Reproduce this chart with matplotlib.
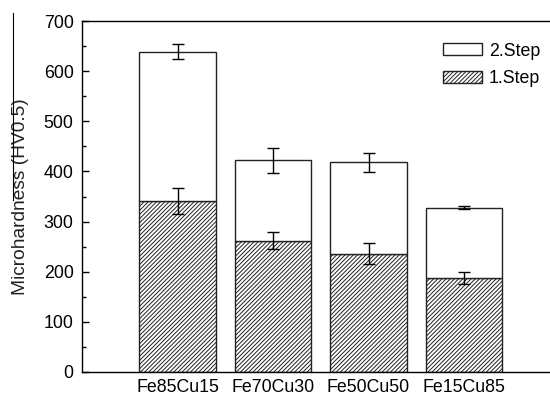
import numpy as np
import matplotlib
matplotlib.use("Agg")
import matplotlib.pyplot as plt
from matplotlib.lines import Line2D

plt.rcParams['font.family'] = ['Liberation Sans', 'DejaVu Sans']
plt.rcParams['hatch.linewidth'] = 0.7

# data
alloys = ['Fe85Cu15', 'Fe70Cu30', 'Fe50Cu50', 'Fe15Cu85']
step1 = [341, 262, 236, 187]
step1_err = [25, 17, 21, 12]
total = [639, 422, 418, 328]
total_err = [15, 25, 19, 3]
step2 = [t - s for t, s in zip(total, step1)]

x = np.arange(len(alloys))

fig = plt.figure(figsize=(5.5, 3.97), dpi=100)
ax = fig.add_axes([82/550, 1 - 372/397, (559.5 - 82)/550, (372 - 21)/397])

b1 = ax.bar(x, step1, width=0.8, color='white', edgecolor='#222222',
            hatch='////////', linewidth=1.0, label='1.Step')
b2 = ax.bar(x, step2, bottom=step1, width=0.8, color='white',
            edgecolor='#222222', linewidth=1.0, label='2.Step')

ax.errorbar(x, step1, yerr=step1_err, fmt='none', ecolor='black',
            elinewidth=1, capsize=4.5, capthick=1)
ax.errorbar(x, total, yerr=total_err, fmt='none', ecolor='black',
            elinewidth=1, capsize=4.5, capthick=1)

ax.set_xlim(-1, 4)
ax.set_ylim(0, 700)
ax.set_yticks(np.arange(0, 701, 100))
ax.set_yticks(np.arange(50, 700, 100), minor=True)
ax.set_xticks(x)
ax.set_xticklabels(alloys, fontsize=12.8)
ax.tick_params(axis='y', direction='in', length=5, width=1, labelsize=12.8, pad=6)
ax.tick_params(axis='y', which='minor', direction='in', length=3, width=1)
ax.tick_params(axis='x', length=0, pad=5)
ax.spines['right'].set_visible(False)
for s in ['left', 'bottom', 'top']:
    ax.spines[s].set_linewidth(1.0)

ax.set_ylabel('Microhardness (HV0.5)', fontsize=13.8, color='#222222')
ax.yaxis.set_label_coords(-0.111, 0.5)

ax.legend([b2, b1], ['2.Step', '1.Step'], loc='upper left',
          bbox_to_anchor=(0.722, 0.984), frameon=False, fontsize=12.8,
          handlelength=2.2, handleheight=0.66, handletextpad=0.4,
          labelspacing=0.6)

# stray vertical line beside the label in the original
fig.add_artist(Line2D([12.5/550, 12.5/550], [1 - 13/397, 1 - 200/397],
                      color='black', linewidth=0.8))

fig.savefig('out.png', dpi=100)
